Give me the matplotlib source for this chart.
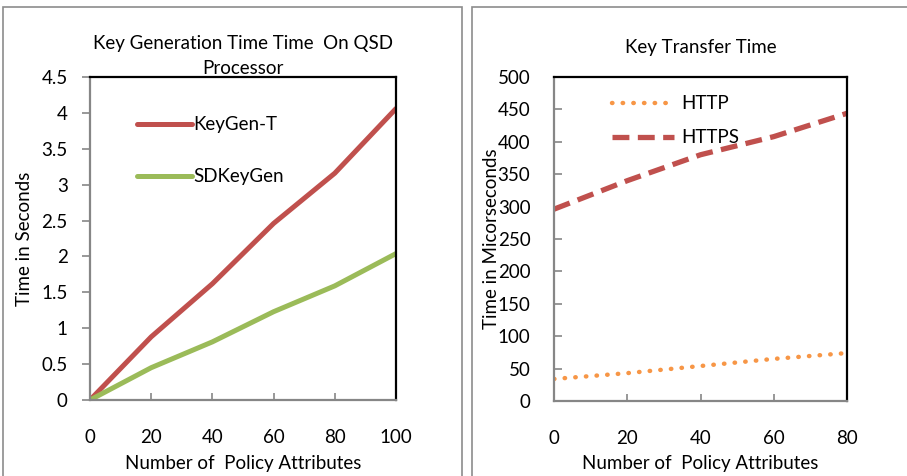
import matplotlib
matplotlib.use("Agg")
import matplotlib.pyplot as plt
from matplotlib.patches import Rectangle

plt.rcParams['font.family'] = ['Lato', 'DejaVu Sans']

# Left chart data
attrs_left = [0, 20, 40, 60, 80, 100]
keygen_t = [0, 0.88, 1.62, 2.46, 3.16, 4.06]
sdkeygen = [0, 0.45, 0.81, 1.23, 1.59, 2.04]
yticks_left = [0, 0.5, 1, 1.5, 2, 2.5, 3, 3.5, 4, 4.5]
yticklabels_left = ['0', '0.5', '1', '1.5', '2', '2.5', '3', '3.5', '4', '4.5']

# Right chart data
attrs_right = [0, 20, 40, 60, 80]
http = [34, 43, 54, 65, 74]
https = [296, 340, 380, 408, 444]
yticks_right = list(range(0, 501, 50))

W, H = 907, 476
fig = plt.figure(figsize=(W / 100, H / 100), dpi=100)

def fx(px):
    return px / W

def fy(py):
    return 1 - py / H

# panel borders
for (x0, x1) in [(3, 462), (472, 912)]:
    fig.patches.append(Rectangle((fx(x0), fy(490)), fx(x1 - x0), (490 - 7) / H,
                                 transform=fig.transFigure, fill=False,
                                 edgecolor='#8c8c8c', lw=1.2))

grey = '#868686'
fs = 13.5

def style(ax):
    ax.spines['left'].set_color(grey)
    ax.spines['bottom'].set_color(grey)
    ax.spines['top'].set_color('black')
    ax.spines['right'].set_color('black')
    for s in ax.spines.values():
        s.set_linewidth(1.6)

# Left axes
ax1 = fig.add_axes([fx(90), fy(400), fx(306), 323 / H])
ax1.plot(attrs_left, keygen_t, color='#C0504D', lw=3.6, solid_capstyle='round', label='KeyGen-T')
ax1.plot(attrs_left, sdkeygen, color='#9BBB59', lw=3.6, solid_capstyle='round', label='SDKeyGen')
ax1.set_xlim(0, 100)
ax1.set_ylim(0, 4.5)
ax1.set_xticks(attrs_left)
ax1.set_yticks(yticks_left)
ax1.set_yticklabels(yticklabels_left)
style(ax1)
ax1.tick_params(axis='y', direction='out', length=6, width=1.2, color=grey, labelsize=fs, pad=10)
ax1.tick_params(axis='x', direction='in', length=5, width=1.2, color=grey, labelsize=fs, pad=21)
ax1.set_xlabel('Number of  Policy Attributes', fontsize=fs, labelpad=6)
ax1.set_ylabel('Time in Seconds', fontsize=fs)
ax1.yaxis.set_label_coords(-(90 - 33) / 306, 0.5)
ax1.set_title('Key Generation Time Time  On QSD\nProcessor', fontsize=fs, pad=-2, linespacing=1.6)
ax1.legend(loc='upper left', bbox_to_anchor=(0.1, 0.93), frameon=False, fontsize=fs,
           handlelength=2.9, handletextpad=0.1, labelspacing=1.85)

# Right axes
ax2 = fig.add_axes([fx(554), fy(401), fx(293), 324 / H])
ax2.plot(attrs_right, http, color='#F79646', lw=3.2, linestyle=(0, (0.1, 2.3)),
         dash_capstyle='round', label='HTTP')
ax2.plot(attrs_right, https, color='#C0504D', lw=3.8, linestyle=(0, (3.2, 1.6)), label='HTTPS')
ax2.set_xlim(0, 80)
ax2.set_ylim(0, 500)
ax2.set_xticks(attrs_right)
ax2.set_yticks(yticks_right)
style(ax2)
ax2.tick_params(axis='y', direction='in', length=6, width=1.2, color=grey, labelsize=fs, pad=17)
ax2.tick_params(axis='x', direction='in', length=5, width=1.2, color=grey, labelsize=fs, pad=21)
ax2.set_xlabel('Number of  Policy Attributes', fontsize=fs, labelpad=6)
ax2.set_ylabel('Time in Micorseconds', fontsize=fs)
ax2.yaxis.set_label_coords(-(554 - 500) / 293, 0.5)
ax2.set_title('Key Transfer Time', fontsize=fs, pad=17)
ax2.legend(loc='upper left', bbox_to_anchor=(0.14, 0.995), frameon=False, fontsize=fs,
           handlelength=3.3, handletextpad=0.4, labelspacing=0.9)

fig.savefig('out.png', dpi=100)
